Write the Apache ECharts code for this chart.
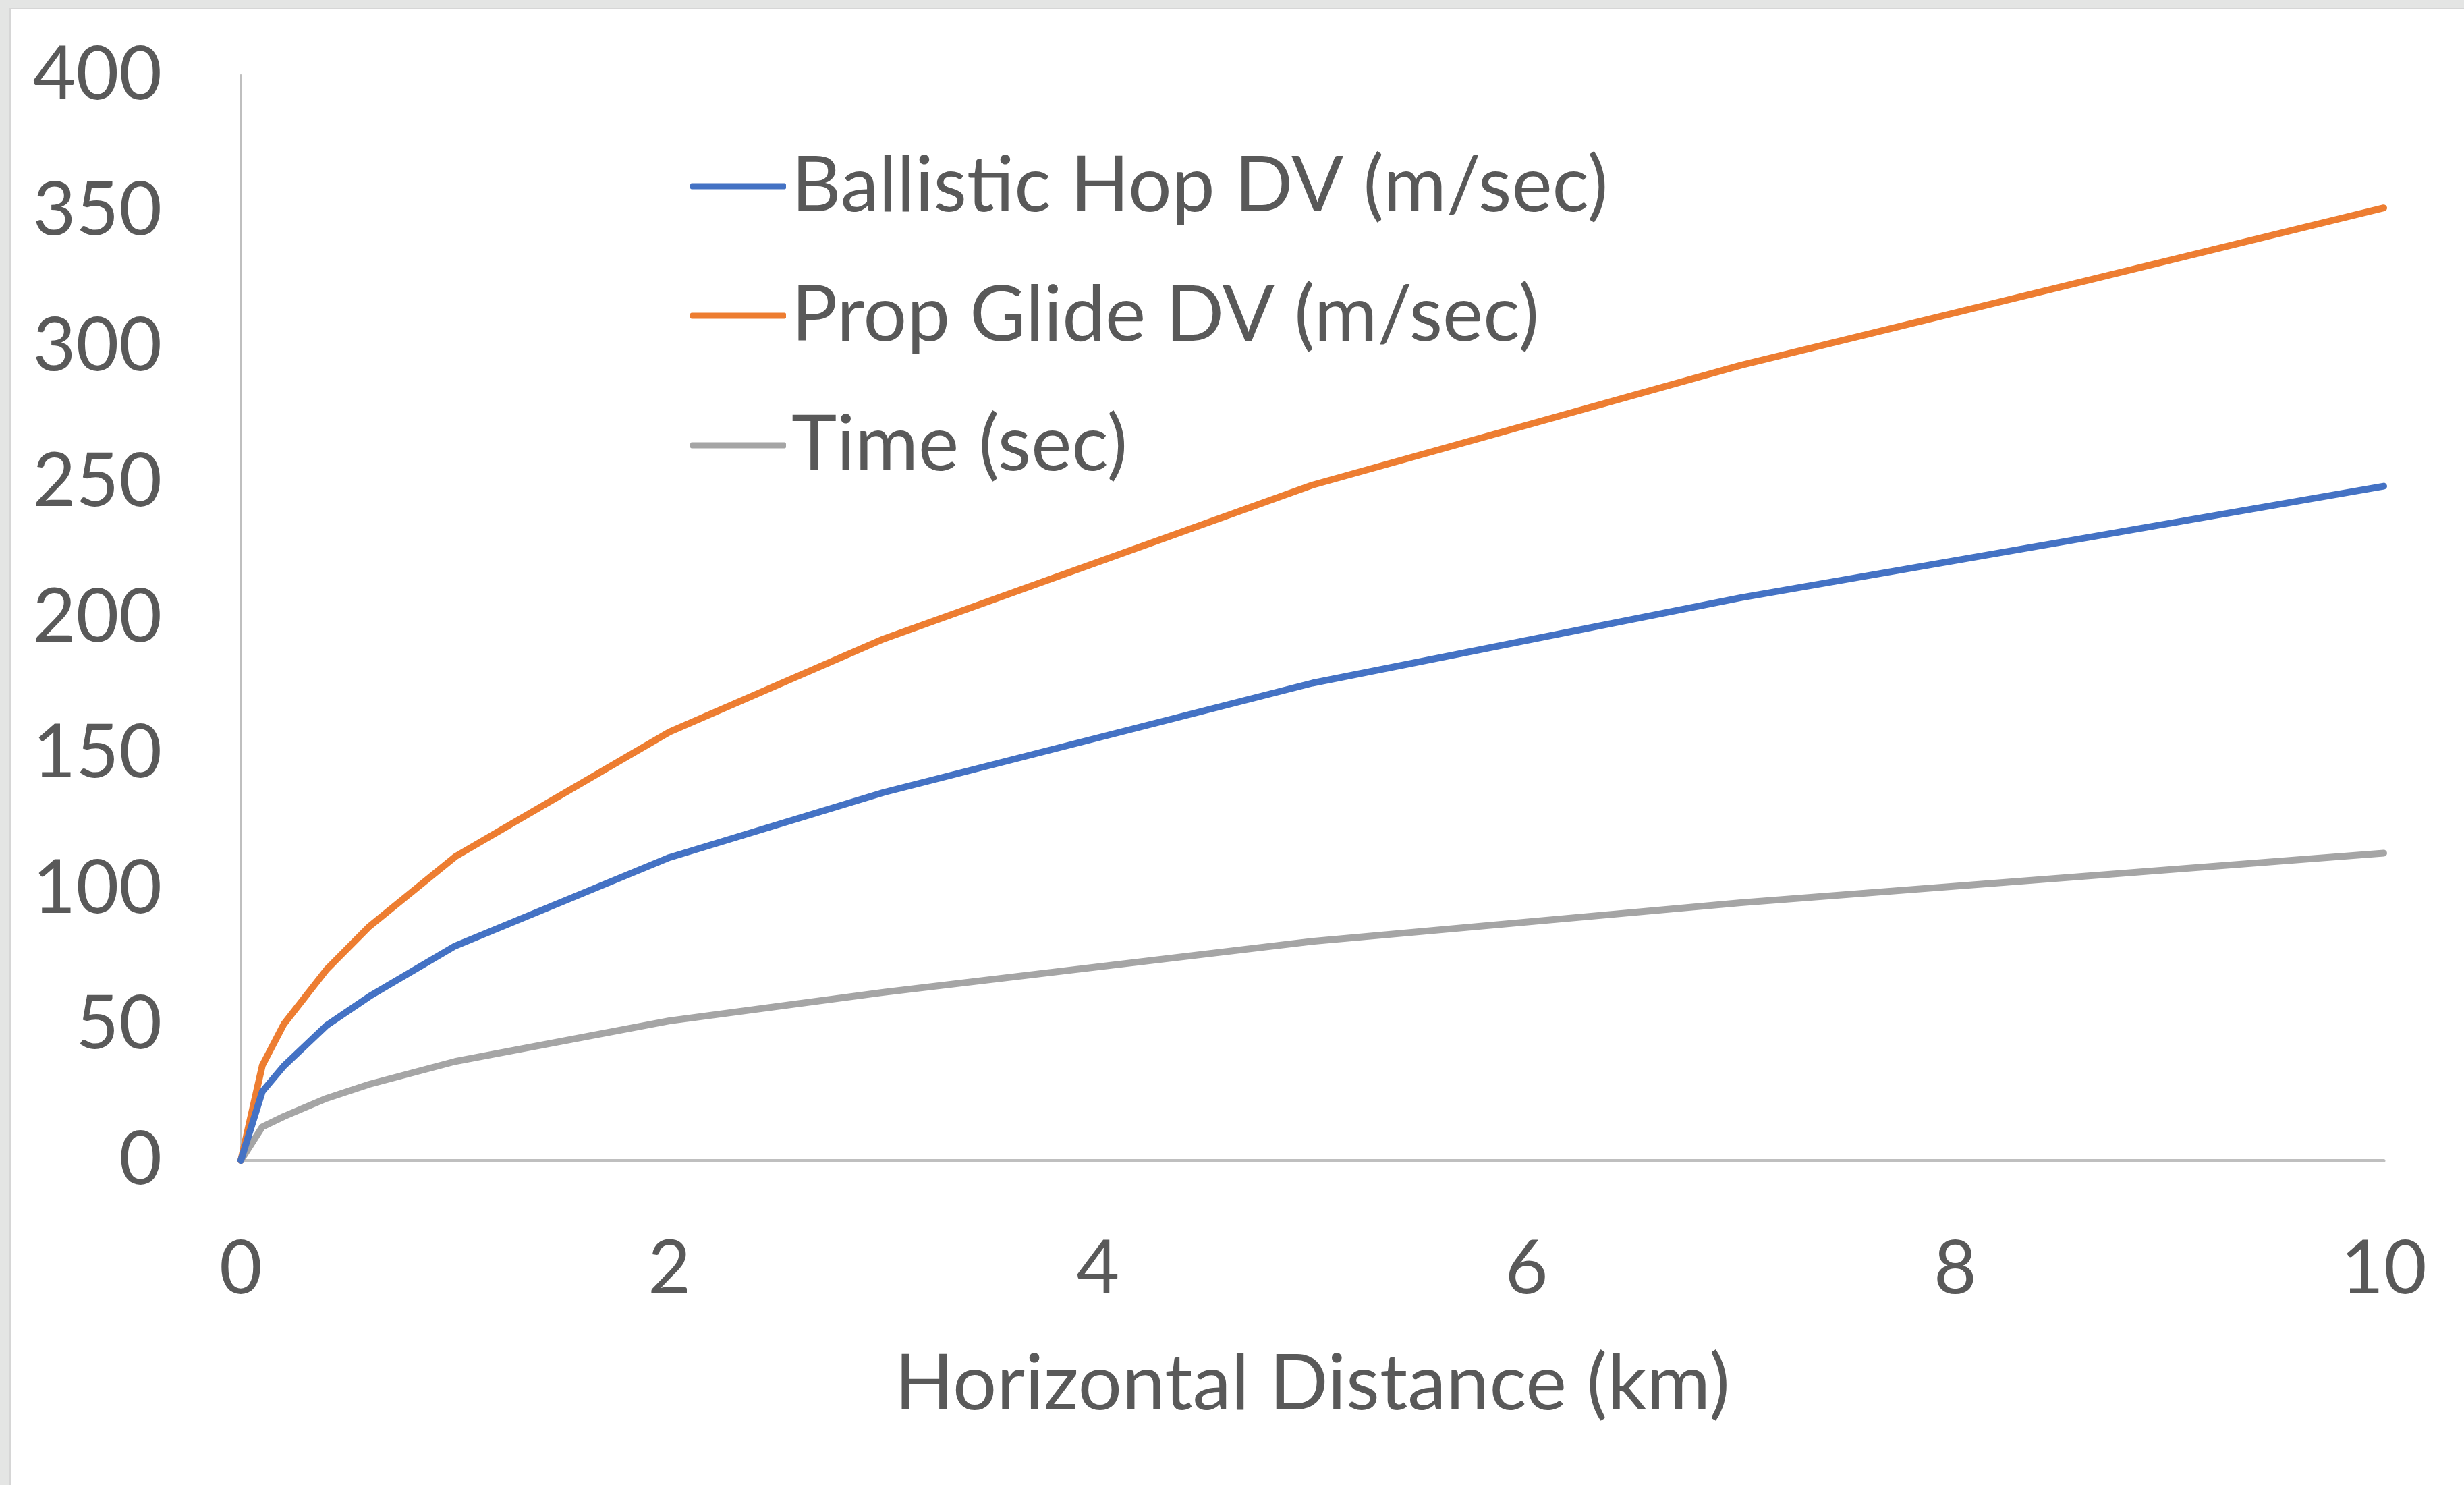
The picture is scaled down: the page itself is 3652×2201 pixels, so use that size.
<!DOCTYPE html>
<html>
<head>
<meta charset="utf-8">
<title>Hop DV vs Distance</title>
<script src="https://cdn.jsdelivr.net/npm/echarts@6/dist/echarts.min.js"></script>
<style>
  html, body { margin: 0; padding: 0; width: 100%; height: 100%; background: #e4e5e4; overflow: hidden; }
  #chart { position: absolute; left: 14px; top: 12px; right: 0; bottom: 0; background: #ffffff; border-left: 2px solid #d6d6d6; border-top: 2px solid #d6d6d6; }
</style>
</head>
<body>
<div id="chart"></div>
<script>
// Horizontal distance (km)
const distanceKm = [0, 0.1, 0.2, 0.4, 0.6, 1, 2, 3, 5, 7, 10];
// Delta-V for a ballistic hop (m/sec)
const ballisticDV = [0, 25.4, 34.8, 49.8, 60.5, 79.1, 111.7, 135.7, 176.0, 207.5, 248.6];
// Delta-V for a propulsive glide (m/sec)
const propGlideDV = [0, 35.0, 50.2, 70.4, 86.3, 112.0, 158.0, 192.3, 249.0, 293.2, 351.2];
// Flight time (sec)
const flightTime = [0, 12.4, 16.2, 22.9, 28.1, 36.5, 51.5, 62.0, 80.8, 95.0, 113.3];

const seriesNames = ['Ballistic Hop DV (m/sec)', 'Prop Glide DV (m/sec)', 'Time (sec)'];
const seriesColors = ['#4472c4', '#ed7d31', '#a5a5a5'];
const xTicks = [0, 2, 4, 6, 8, 10];
const yTicks = [0, 50, 100, 150, 200, 250, 300, 350, 400];
const xAxisTitle = 'Horizontal Distance (km)';

const pairs = ys => distanceKm.map((x, i) => [x, ys[i]]);
const seriesValues = [ballisticDV, propGlideDV, flightTime];

const textColor = '#595959';
const axisColor = '#bfbfbf';
const fontFamily = 'Lato, "Open Sans", sans-serif';

const chart = echarts.init(document.getElementById('chart'));
chart.setOption({
  animation: false,
  textStyle: { fontFamily: fontFamily },
  grid: { left: 341, top: 98, width: 3176, height: 1608, containLabel: false },
  legend: {
    orient: 'vertical',
    left: 1002,
    top: 200,
    itemWidth: 142,
    itemHeight: 9,
    itemGap: 78,
    icon: 'roundRect',
    textStyle: { fontSize: 114, color: textColor, fontFamily: fontFamily, padding: [0, 0, 0, 3] },
    data: seriesNames
  },
  xAxis: {
    type: 'value',
    min: xTicks[0],
    max: xTicks[xTicks.length - 1],
    interval: xTicks[1] - xTicks[0],
    name: xAxisTitle,
    nameLocation: 'middle',
    nameGap: 274,
    nameTextStyle: { fontSize: 115, color: textColor, fontFamily: fontFamily },
    axisLine: { show: true, onZero: false, lineStyle: { color: axisColor, width: 5 } },
    axisTick: { show: false },
    splitLine: { show: false },
    axisLabel: { fontSize: 110, color: textColor, margin: 107, fontFamily: fontFamily }
  },
  yAxis: {
    type: 'value',
    min: yTicks[0],
    max: yTicks[yTicks.length - 1],
    interval: yTicks[1] - yTicks[0],
    axisLine: { show: true, onZero: false, lineStyle: { color: axisColor, width: 4 } },
    axisTick: { show: false },
    splitLine: { show: false },
    axisLabel: { fontSize: 110, color: textColor, margin: 117, fontFamily: fontFamily }
  },
  series: seriesNames.map((name, i) => ({
    name: name,
    type: 'line',
    data: pairs(seriesValues[i]),
    showSymbol: false,
    symbol: 'none',
    color: seriesColors[i],
    lineStyle: { color: seriesColors[i], width: 10, cap: 'round', join: 'round' },
    z: 3 - i
  }))
});
</script>
</body>
</html>
